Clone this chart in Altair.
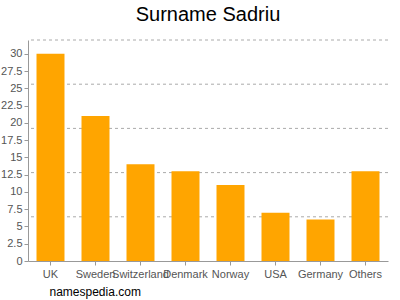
import altair as alt
import pandas as pd

countries = ["UK", "Sweden", "Switzerland", "Denmark", "Norway", "USA", "Germany", "Others"]
counts = [30, 21, 14, 13, 11, 7, 6, 13]
y_ticks = [0, 2.5, 5, 7.5, 10, 12.5, 15, 17.5, 20, 22.5, 25, 27.5, 30]
grid_values = [6.4, 12.8, 19.2, 25.6, 32]

df = pd.DataFrame({"country": countries, "count": counts})
grid_df = pd.DataFrame({"g": grid_values})

FONT = "Liberation Sans"
yscale = alt.Scale(domain=[0, 32], nice=False)
yaxis = alt.Axis(title=None, values=y_ticks, grid=False, labelOverlap=False, format=".3~g",
                 labelColor="#555", labelFontSize=11, labelFont=FONT,
                 domainColor="#999", tickColor="#999", tickSize=4,
                 labelPadding=2)

bars = alt.Chart(df).mark_bar(color="#ffa500").encode(
    x=alt.X("country:N", sort=countries,
            scale=alt.Scale(paddingInner=0.378, paddingOuter=0.189),
            axis=alt.Axis(title="namespedia.com", titleX=21, titleY=34,
                          titleAlign="left", titleBaseline="alphabetic",
                          titleColor="#000", titleFontSize=12, titleFontWeight="normal",
                          titleFont=FONT,
                          labelAngle=0, labelOverlap=False, labelLimit=0,
                          labelColor="#555", labelFontSize=11, labelFont=FONT,
                          labelPadding=3,
                          domainColor="#999", tickColor="#999", tickSize=4)),
    y=alt.Y("count:Q", scale=yscale, axis=yaxis),
)

grid = alt.Chart(grid_df).mark_rule(color="#aaa", strokeDash=[3, 3], strokeWidth=1).encode(
    y=alt.Y("g:Q", scale=yscale, axis=yaxis)
)

chart = alt.layer(grid, bars).properties(
    width=360, height=221,
    title=alt.TitleParams("Surname Sadriu", fontSize=20, font=FONT, fontWeight="normal",
                          color="#000", anchor="middle", offset=15),
    autosize=alt.AutoSizeParams(type="none"),
    padding={"left": 28, "top": 40, "right": 12, "bottom": 39},
).configure_view(stroke=None)

chart.save("out.html", embed_options={"renderer": "svg", "actions": False})
